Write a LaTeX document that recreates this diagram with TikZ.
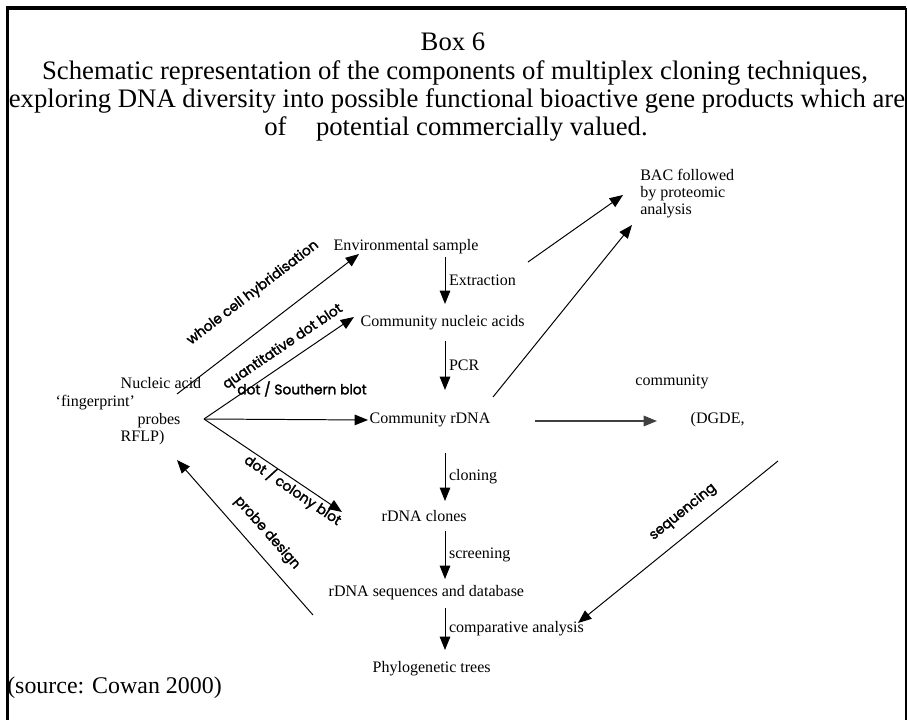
\documentclass[tikz,border=0pt]{standalone}
\usepackage{fontspec}
\setmainfont{Liberation Serif}
\newfontfamily\labfont[FakeBold=2]{Poppins}
\usetikzlibrary{arrows.meta,calc}

\tikzset{
  txt/.style={anchor=west,inner sep=1pt,font=\fontsize{11.4}{12}\selectfont},
  vlab/.style={right,inner sep=2.5pt,font=\fontsize{11.4}{12}\selectfont},
  ttl/.style={anchor=base,inner sep=0pt,font=\fontsize{19}{21}\selectfont},
  lab/.style={inner sep=1pt,font=\labfont\fontsize{9.8}{11}\selectfont},
  arr/.style={-{Triangle[length=9.5pt,width=7.5pt]},line width=0.7pt}
}

\begin{document}
\begin{tikzpicture}[x=0.025cm,y=-0.025cm]
  \useasboundingbox (0,0) rectangle (907,720);
  % frame
  \draw[line width=2.2pt] (7.5,720) -- (7.5,8) -- (906,8);
  \draw[line width=1.2pt] (906,8) -- (906,720);
  % heading
  \node[ttl] (box) at (453,51) {Box 6};
  \node[ttl] (ttl1) at (455,80) {Schematic representation of the components of multiplex cloning techniques,};
  \node[ttl] (ttl2) at (457,108) {exploring DNA diversity into possible functional bioactive gene products which are};
  \node[ttl] (ttl3) at (456,136) {of\hspace{1.1em}potential commercially valued.};
  % main column
  \node[txt] (env) at (332,247) {Environmental sample};
  \node[txt] (nuc) at (359,323) {Community nucleic acids};
  \node[txt] (rdna) at (368,420) {Community rDNA};
  \node[txt] (clones) at (380,516) {rDNA clones};
  \node[txt] (seqdb) at (327,593) {rDNA sequences and database};
  \node[txt] (phylo) at (371,669) {Phylogenetic trees};
  \coordinate (ax) at (445,0);
  \foreach \p/\q/\s/\e/\lbl in {env/nuc/10/19/Extraction, nuc/rdna/18/30/PCR,
      rdna/clones/33/15/cloning, clones/seqdb/15/14/screening,
      seqdb/phylo/15/19/comparative analysis}
    \draw[arr] ($(\p.center -| ax)+(0,\s)$) -- node[vlab] (l\q) {\lbl} ($(\q.center -| ax)-(0,\e)$);
  % right side
  \node[txt,anchor=north west,inner sep=0pt,align=left] (bac) at (640,169) {BAC followed\\by proteomic\\analysis};
  \node[txt,anchor=center] (comm) at (672,382) {community};
  \node[txt] (dgde) at (689,420) {(DGDE,};
  % left side
  \node[txt] (fp1) at (119,383) {Nucleic acid};
  \node[txt] (fp2) at (54,403) {`fingerprint'};
  \node[txt] (fp3) at (136,421) {probes};
  \node[txt] (fp4) at (119,438) {RFLP)};
  \coordinate (hub) at (204,419);
  \coordinate (wcA) at (177,394);
  \coordinate (wcB) at (359,254);
  \coordinate (qdB) at (354,317);
  \coordinate (cbB) at (342,512);
  \coordinate (pdA) at (313,615);
  \coordinate (pdB) at (177,460);
  \coordinate (sqA) at (778,461);
  \coordinate (sqB) at (578,623);
  \coordinate (bacA) at (528,262);
  \coordinate (bacB) at (623,195);
  \coordinate (bacC) at (493,397);
  \coordinate (bacD) at (632,225);
  \coordinate (dgA) at (535,421);
  \coordinate (dgB) at (657,421);
  \draw[arr] (wcA) -- (wcB);
  \draw[arr] (hub) -- (qdB);
  \draw[arr] (hub) -- (rdna.west) ;
  \draw[arr] (hub) -- (cbB);
  \draw[arr] (pdA) -- (pdB);
  \draw[arr] (sqA) -- (sqB);
  \draw[arr] (bacA) -- (bacB);
  \draw[arr] (bacC) -- (bacD);
  \draw[arr,line width=1.1pt,black!75] (dgA) -- (dgB);
  % arrow labels
  \node[lab,rotate=37.5] (lwc) at (253,293) {whole cell hybridisation};
  \node[lab,rotate=34] (lqd) at (283,347) {quantitative dot blot};
  \node[lab] (lsb) at (302,389) {dot / Southern blot};
  \node[lab,rotate=-34] (lcb) at (293,490) {dot / colony blot};
  \node[lab,rotate=-48.6] (lpd) at (267,533) {probe design};
  \node[lab,rotate=39] (lsq) at (683,512) {sequencing};
  % source
  \node[txt,font=\fontsize{17}{20}\selectfont,inner sep=0pt] (src) at (7,688) {(source: Cowan 2000)};
\end{tikzpicture}
\end{document}
